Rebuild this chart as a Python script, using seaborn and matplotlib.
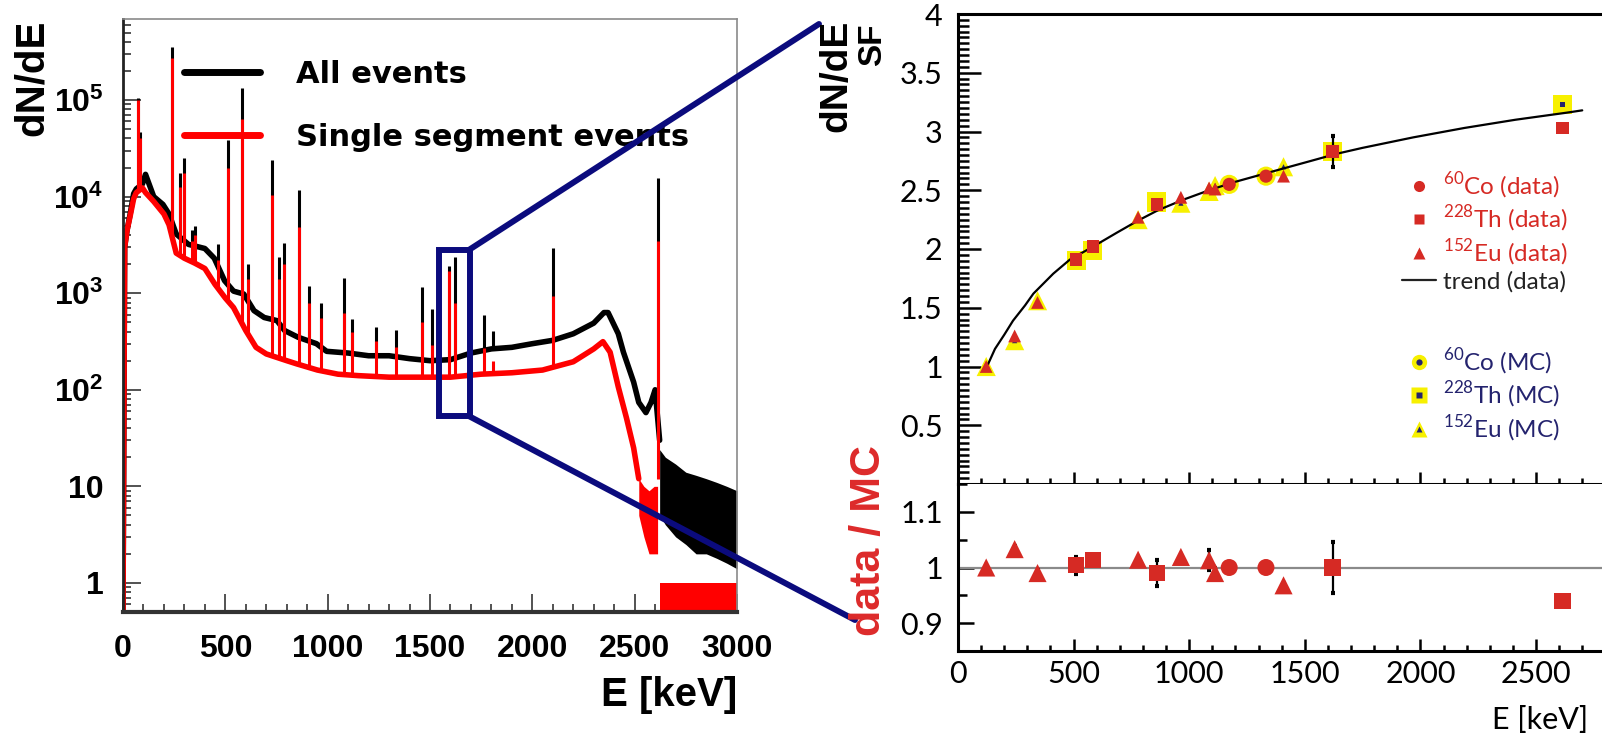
"""
Segment-multiplicity spectrum and single-segment suppression factor
"""

import matplotlib
matplotlib.use("Agg")
import matplotlib.pyplot as plt
import seaborn as sns
import numpy as np
from matplotlib.patches import Rectangle, ConnectionPatch
from matplotlib.lines import Line2D
from matplotlib.ticker import MultipleLocator, LogLocator, NullFormatter

# ---------------- left panel: energy spectrum ----------------
all_E = [0, 8, 20, 35, 52, 65, 95, 110, 150, 195, 225, 260, 320, 400, 446, 496, 540,
         590, 640, 690, 752, 790, 855, 945, 995, 1100, 1200, 1300, 1400, 1500, 1600,
         1700, 1800, 1900, 2000, 2100, 2200, 2300, 2350, 2370, 2390, 2420, 2445, 2495,
         2520, 2555, 2580, 2600, 2622]
all_N = [0.5, 3000, 4500, 6600, 10700, 12000, 13500, 17000, 10000, 8300, 6600, 4100,
         3200, 2900, 2300, 1350, 1050, 980, 660, 560, 520, 410, 350, 300, 250, 240, 225,
         225, 210, 200, 205, 240, 265, 275, 300, 325, 380, 490, 630, 630, 515, 380, 245,
         120, 74, 58, 74, 100, 30]

single_E = [0, 8, 20, 35, 52, 65, 95, 110, 150, 200, 225, 260, 300, 350, 400, 450, 500,
            540, 600, 650, 700, 800, 850, 950, 1050, 1150, 1300, 1450, 1600, 1750, 1900,
            2050, 2200, 2300, 2345, 2380, 2420, 2460, 2495, 2520]
single_N = [0.5, 3000, 4500, 6300, 9500, 11000, 12300, 11000, 8900, 6600, 5100, 2600,
            2300, 2050, 1800, 1230, 890, 710, 410, 275, 235, 200, 185, 160, 145, 140, 135,
            135, 135, 145, 150, 160, 195, 265, 315, 245, 107, 51, 25, 12]

peak_E = [75, 85, 239, 277, 300, 338, 352, 463, 511, 583, 609, 727, 763, 785, 860, 911,
          969, 1078, 1120, 1238, 1333, 1460, 1512, 1593, 1621, 1764, 1806, 2103, 2614]
all_peak_N = [105000, 47000, 355000, 17400, 25000, 4500, 5000, 3200, 39000, 132000,
              2000, 24000, 2350, 3300, 11700, 1200, 800, 1450, 540, 450, 420, 1150, 690,
              1900, 2350, 590, 410, 2950, 15500]
single_peak_N = [100000, 40000, 270000, 12600, 17400, 3500, 4000, 2200, 20000, 63000,
                 1400, 10500, 1400, 2000, 4900, 800, 560, 630, 400, 320, 280, 500, 290,
                 1700, 800, 270, 200, 930, 3500]

# noisy high-energy tail (lower / upper envelope of the histogram)
tail_E = [2622, 2650, 2700, 2750, 2800, 2850, 2900, 2950, 3000]
all_tail_lo = [5, 4, 3, 2.5, 2, 2, 1.8, 1.6, 1.4]
all_tail_hi = [24, 20, 17, 14, 13, 12, 11, 10, 9]
single_tail_hi = [1, 1, 1, 1, 1, 1, 1, 1, 1]

single_noise_E = [2520, 2545, 2570, 2595, 2612]
single_noise_lo = [5, 3, 2, 2, 2]
single_noise_hi = [12, 10, 9, 10, 10]

# zoomed window shown on the right
zoom_E = [1546, 1693]
zoom_N = [53, 2830]

# ---------------- right panel: suppression factor ----------------
co_E = [1173, 1332]
co_data = [2.55, 2.62]
co_mc = [2.55, 2.62]
co_ratio = [1.0, 1.0]

th_E = [511, 583, 860, 1620, 2614]
th_data = [1.91, 2.02, 2.38, 2.83, 3.03]
th_mc = [1.90, 1.99, 2.40, 2.83, 3.23]
th_err = [0.02, 0.02, 0.03, 0.13, 0.02]
th_ratio = [1.004, 1.013, 0.99, 1.0, 0.94]
th_ratio_err = [0.015, 0.003, 0.024, 0.046, 0.008]

eu_E = [122, 245, 344, 779, 964, 1086, 1112, 1408]
eu_data = [1.0, 1.26, 1.545, 2.27, 2.44, 2.52, 2.51, 2.62]
eu_mc = [1.0, 1.22, 1.56, 2.25, 2.39, 2.49, 2.54, 2.70]
eu_ratio = [1.0, 1.033, 0.99, 1.014, 1.019, 1.013, 0.99, 0.968]
eu_ratio_err = [0.005, 0.005, 0.005, 0.005, 0.005, 0.018, 0.01, 0.005]

trend_E = [130, 160, 200, 238, 290, 326, 412, 484, 584, 688, 777, 865, 975, 1086, 1196,
           1306, 1416, 1527, 1637, 1748, 1969, 2190, 2411, 2632, 2700]
trend_SF = [1.02, 1.15, 1.27, 1.39, 1.52, 1.62, 1.79, 1.91, 2.02, 2.14, 2.24, 2.33, 2.42,
            2.50, 2.57, 2.63, 2.69, 2.75, 2.81, 2.86, 2.95, 3.03, 3.10, 3.16, 3.18]

RED = '#d62a24'
NAVY = '#24236e'
YELLOW = '#f7f000'
BOX = '#0b0b7d'

sns.set_style('ticks')
plt.rcParams['font.family'] = ['Liberation Sans', 'DejaVu Sans']
plt.rcParams.update({'text.color': 'black', 'axes.labelcolor': 'black',
                     'xtick.color': 'black', 'ytick.color': 'black',
                     'axes.edgecolor': 'black'})
plt.rcParams['mathtext.fontset'] = 'custom'
plt.rcParams['mathtext.rm'] = 'Lato'
plt.rcParams['mathtext.bf'] = 'Liberation Sans:bold'

W, H = 1602, 739
fig = plt.figure(figsize=(W / 100, H / 100), dpi=100)


def px_axes(x0, y0, x1, y1):
    return fig.add_axes([x0 / W, 1 - y1 / H, (x1 - x0) / W, (y1 - y0) / H])


ax_l = px_axes(123, 19, 737, 612)
ax_t = px_axes(958, 14, 1602, 484)
ax_b = px_axes(958, 484, 1602, 651)

# ---- spectrum ----
ax_l.set_yscale('log')
sns.lineplot(x=all_E, y=all_N, ax=ax_l, color='black', linewidth=4, estimator=None, sort=False)
base = 10 ** np.interp(peak_E, all_E, np.log10(all_N))
ax_l.vlines(peak_E, base, all_peak_N, color='black', linewidth=2.2)
ax_l.fill_between(tail_E, all_tail_lo, all_tail_hi, color='black', linewidth=0)

sns.lineplot(x=single_E, y=single_N, ax=ax_l, color='red', linewidth=4, estimator=None, sort=False)
base = 10 ** np.interp(peak_E, single_E, np.log10(single_N))
ax_l.vlines(peak_E, base, single_peak_N, color='red', linewidth=2.2)
ax_l.fill_between(single_noise_E, single_noise_lo, single_noise_hi, color='red', linewidth=0)
ax_l.fill_between(tail_E, 0.5, single_tail_hi, color='red', linewidth=0)

ax_l.set_xlim(0, 3000)
ax_l.set_ylim(0.5, 6.9e5)
ax_l.set_xlabel('')
ax_l.set_ylabel('')
ax_l.set_xticks([0, 500, 1000, 1500, 2000, 2500, 3000],
                labels=['0', '500', '1000', '1500', '2000', '2500', '3000'],
                fontsize=23, fontweight='bold')
ax_l.xaxis.set_minor_locator(MultipleLocator(100))
ax_l.set_yticks([1, 10, 100, 1e3, 1e4, 1e5],
                labels=['1', '10', r'$\mathbf{10^{2}}$', r'$\mathbf{10^{3}}$',
                        r'$\mathbf{10^{4}}$', r'$\mathbf{10^{5}}$'],
                fontsize=23, fontweight='bold')
ax_l.yaxis.set_minor_locator(LogLocator(base=10, subs=np.arange(2, 10), numticks=20))
ax_l.yaxis.set_minor_formatter(NullFormatter())
ax_l.tick_params(which='both', direction='in', color='#444444', width=1.3)
ax_l.tick_params(which='major', length=13)
ax_l.tick_params(which='minor', length=6)
ax_l.tick_params(axis='x', pad=16)
ax_l.tick_params(axis='y', pad=14)
for side in ['top', 'right']:
    ax_l.spines[side].set_color('#8a8a8a')
    ax_l.spines[side].set_linewidth(1.2)
ax_l.spines['left'].set_color('#222222')
ax_l.spines['left'].set_linewidth(2)
ax_l.spines['bottom'].set_color('#333333')
ax_l.spines['bottom'].set_linewidth(3)

handles = [Line2D([], [], color='black', lw=5), Line2D([], [], color='red', lw=5)]
ax_l.legend(handles, ['All events', 'Single segment events'], loc='upper left',
            bbox_to_anchor=(184 / W, 1 - 60 / H), bbox_transform=fig.transFigure,
            frameon=False, prop={'family': 'DejaVu Sans', 'weight': 'bold', 'size': 22},
            labelcolor='black', handlelength=2.5, handletextpad=1.15, labelspacing=1.1,
            borderpad=0, borderaxespad=0)

# zoom window and connecting lines
ax_l.add_patch(Rectangle((zoom_E[0], zoom_N[0]), zoom_E[1] - zoom_E[0], zoom_N[1] - zoom_N[0],
                         fill=False, edgecolor=BOX, linewidth=4.3, zorder=5))
for corner, target in [((zoom_E[1], zoom_N[1]), (819, H - 24)),
                       ((zoom_E[1], zoom_N[0]), (855, H - 620))]:
    con = ConnectionPatch(xyA=corner, coordsA=ax_l.transData, xyB=target,
                          coordsB='figure pixels', color=BOX, linewidth=4.3)
    fig.add_artist(con)

fig.text(32 / W, 1 - 20 / H, 'dN/dE', rotation=90, ha='center', va='top',
         fontsize=29, fontweight='bold')
fig.text(737 / W, 1 - 695 / H, 'E [keV]', ha='right', va='center',
         fontsize=29, fontweight='bold')

# ---- suppression factor ----
thin = dict(fontfamily='Lato', fontsize=22, color='black')

for E, mc, mk in [(co_E, co_mc, 'o'), (th_E, th_mc, 's'), (eu_E, eu_mc, '^')]:
    sns.scatterplot(x=E, y=mc, ax=ax_t, marker=mk, s=190, color=YELLOW, edgecolor='none', zorder=3)
    sns.scatterplot(x=E, y=mc, ax=ax_t, marker=mk, s=14, color=NAVY, edgecolor='none', zorder=3)
sns.lineplot(x=trend_E, y=trend_SF, ax=ax_t, color='black', linewidth=1.6, estimator=None,
             sort=False, zorder=4)
ax_t.errorbar(th_E, th_data, yerr=th_err, fmt='none', ecolor='black', elinewidth=1.6,
              capsize=1.5, capthick=3, zorder=5)
for E, d, mk, s in [(co_E, co_data, 'o', 90), (th_E, th_data, 's', 80), (eu_E, eu_data, '^', 85)]:
    sns.scatterplot(x=E, y=d, ax=ax_t, marker=mk, s=s, color=RED, edgecolor='none', zorder=6)

ax_b.axhline(1, color='#8a8a8a', linewidth=1.6, zorder=1)
ax_b.errorbar(th_E, th_ratio, yerr=th_ratio_err, fmt='none', ecolor='black',
              elinewidth=1.6, capsize=1.5, capthick=3, zorder=2)
ax_b.errorbar(eu_E, eu_ratio, yerr=eu_ratio_err, fmt='none', ecolor='black',
              elinewidth=1.6, capsize=1.5, capthick=3, zorder=2)
for E, r, mk, s in [(co_E, co_ratio, 'o', 150), (th_E, th_ratio, 's', 140), (eu_E, eu_ratio, '^', 170)]:
    sns.scatterplot(x=E, y=r, ax=ax_b, marker=mk, s=s, color=RED, edgecolor='none', zorder=3)

for ax in (ax_t, ax_b):
    ax.set_xlim(0, (1602 - 958) / 0.2312)
    ax.set_xlabel('')
    ax.set_ylabel('')
    ax.set_xticks([0, 500, 1000, 1500, 2000, 2500],
                  labels=['0', '500', '1000', '1500', '2000', '2500'], **thin)
    ax.xaxis.set_minor_locator(MultipleLocator(100))
    ax.yaxis.set_minor_locator(MultipleLocator(0.05))
    ax.tick_params(which='both', direction='in', color='black', width=1.8)
    ax.tick_params(axis='x', which='major', length=8.6, pad=6.5)
    ax.tick_params(axis='x', which='minor', length=4.3)
    ax.tick_params(axis='y', pad=11)
    ax.spines['right'].set_visible(False)
    for side in ['left', 'bottom', 'top']:
        ax.spines[side].set_linewidth(2.2)
        ax.spines[side].set_color('black')

ax_t.set_ylim(0, 4)
ax_t.set_yticks(np.arange(0.5, 4.01, 0.5),
                labels=['0.5', '1', '1.5', '2', '2.5', '3', '3.5', '4'], **thin)
ax_t.tick_params(axis='y', which='major', length=16.5)
ax_t.tick_params(axis='y', which='minor', length=8)
ax_t.tick_params(labelbottom=False)

ax_b.set_ylim(0.85, 1.15)
ax_b.set_yticks([0.9, 1.0, 1.1], labels=['0.9', '1', '1.1'], **thin)
ax_b.tick_params(axis='y', which='major', length=11.5)
ax_b.tick_params(axis='y', which='minor', length=6.5)
ax_b.spines['top'].set_visible(False)

# legends
h_data = [Line2D([], [], ls='none', marker=m, ms=ms, color=RED, mec='none')
          for m, ms in [('o', 8), ('s', 7.5), ('^', 8)]]
h_data.append(Line2D([], [], color='#222222', lw=1.6))
leg1 = ax_t.legend(h_data, [r'$^{60}$Co (data)', r'$^{228}$Th (data)', r'$^{152}$Eu (data)',
                            'trend (data)'],
                   loc='upper left', bbox_to_anchor=(1402 / W, 1 - 170 / H),
                   bbox_transform=fig.transFigure, frameon=False,
                   prop={'family': 'Lato', 'size': 17.5},
                   labelcolor=[RED, RED, RED, '#222222'], handlelength=1.4,
                   handletextpad=0.3, labelspacing=0.12, borderpad=0, borderaxespad=0)
ax_t.add_artist(leg1)
h_mc = [(Line2D([], [], ls='none', marker=m, ms=11, color=YELLOW, mec='none'),
         Line2D([], [], ls='none', marker=m, ms=4.5, color=NAVY, mec='none'))
        for m in ['o', 's', '^']]
ax_t.legend(h_mc, [r'$^{60}$Co (MC)', r'$^{228}$Th (MC)', r'$^{152}$Eu (MC)'],
            loc='upper left', bbox_to_anchor=(1402 / W, 1 - 346 / H),
            bbox_transform=fig.transFigure, frameon=False,
            prop={'family': 'Lato', 'size': 17.5}, labelcolor=NAVY, handlelength=1.4,
            handletextpad=0.3, labelspacing=0.12, borderpad=0, borderaxespad=0)

fig.text(836 / W, 1 - 20 / H, 'dN/dE', rotation=90, ha='center', va='top',
         fontsize=28, fontweight='bold')
fig.text(873 / W, 1 - 24 / H, 'SF', rotation=90, ha='center', va='top',
         fontsize=24, fontweight='bold')
fig.text(869 / W, 1 - 541 / H, 'data / MC', rotation=90, ha='center', va='center',
         fontsize=31, fontweight='bold', color='#dd2a2a')
fig.text(1588 / W, 1 - 720 / H, 'E [keV]', ha='right', va='center', **thin)

plt.savefig('out.png', dpi=100)
plt.close()
